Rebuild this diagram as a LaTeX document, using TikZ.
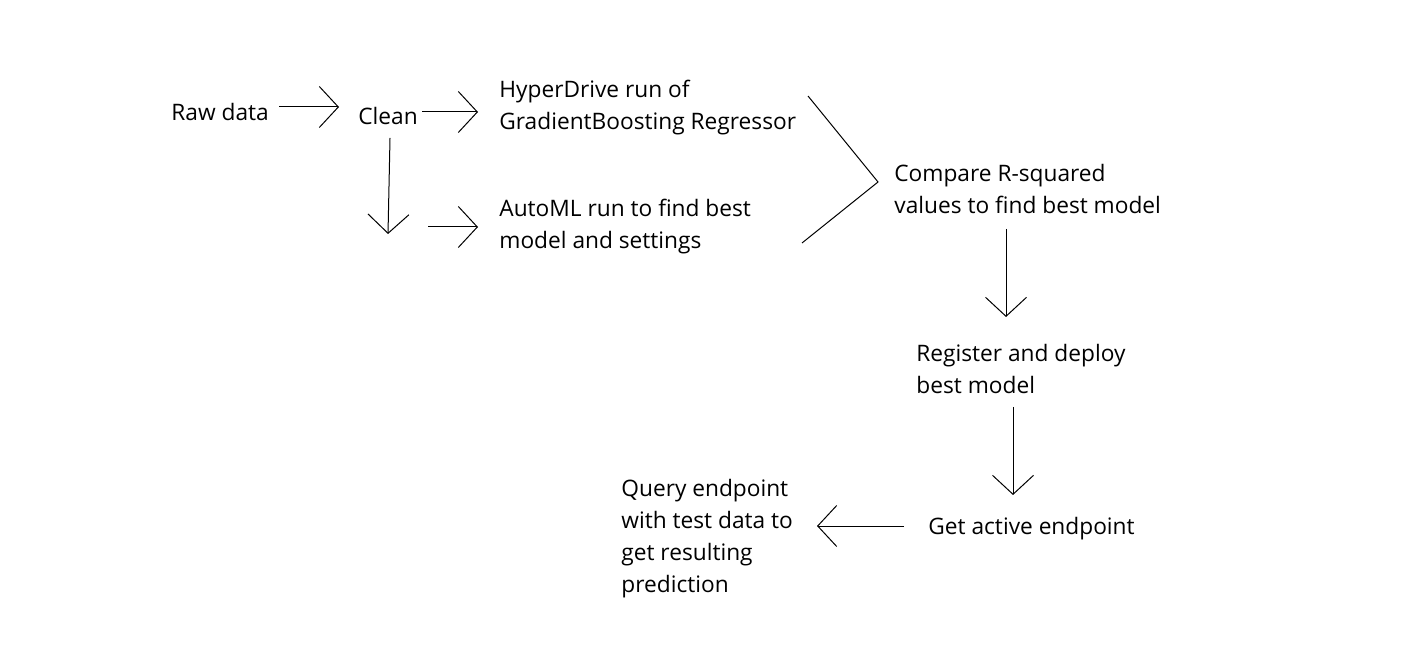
\documentclass[tikz,border=0pt]{standalone}
\usepackage{fontspec}
\setmainfont{Open Sans}
\usetikzlibrary{arrows.meta}

\begin{document}
\begin{tikzpicture}[x=0.5pt,y=-0.5pt,
    every node/.style={font=\fontsize{11.35}{16}\selectfont},
    step text/.style={anchor=west, inner sep=0pt, align=left},
    flow/.style={-{Straight Barb[length=9.5pt,width=20.5pt]}, line width=0.5pt}]
    \useasboundingbox (0,0) rectangle (1416,672);

    % Steps of the pipeline
    \node[step text] (raw) at (171,112) {Raw data};
    \node[step text] (clean) at (358,116) {Clean};
    \node[step text] (hyper) at (499,108) {HyperDrive run of\\GradientBoosting Regressor};
    \node[step text] (automl) at (499,227) {AutoML run to find best\\model and settings};
    \node[step text] (compare) at (894,189) {Compare R-squared\\values to find best model};
    \node[step text] (register) at (916,369) {Register and deploy\\best model};
    \node[step text] (endpoint) at (928,529) {Get active endpoint};
    \node[step text] (query) at (621,539) {Query endpoint\\with test data to\\get resulting\\prediction};

    % Fork below Clean, open ends of the merge
    \coordinate (fork) at (388,234);
    \coordinate (hyperend) at (808,96);
    \coordinate (automlend) at (802,243);

    % Arrows between steps
    \draw[flow] ([shift={(10,-5)}]raw.east) -- ([shift={(-19,-9)}]clean.west);
    \draw[flow] ([shift={(64,-4)}]clean.west) -- ([shift={(-21,4)}]hyper.west);
    \draw[flow] ([shift={(32,22)}]clean.west) -- (fork);
    \draw[flow] ([shift={(40,-7)}]fork) -- ([shift={(-21,0)}]automl.west);

    % Merge of both runs
    \draw[line width=0.5pt] (hyperend) -- ([shift={(-16,-7)}]compare.west) -- (automlend);

    \draw[flow] ([shift={(112,40)}]compare.west) -- ([shift={(90,-52)}]register.west);
    \draw[flow] ([shift={(97,38)}]register.west) -- ([shift={(85,-34)}]endpoint.west);
    \draw[flow] ([shift={(-24,-3)}]endpoint.west) -- ([shift={(196,-13)}]query.west);
\end{tikzpicture}
\end{document}
